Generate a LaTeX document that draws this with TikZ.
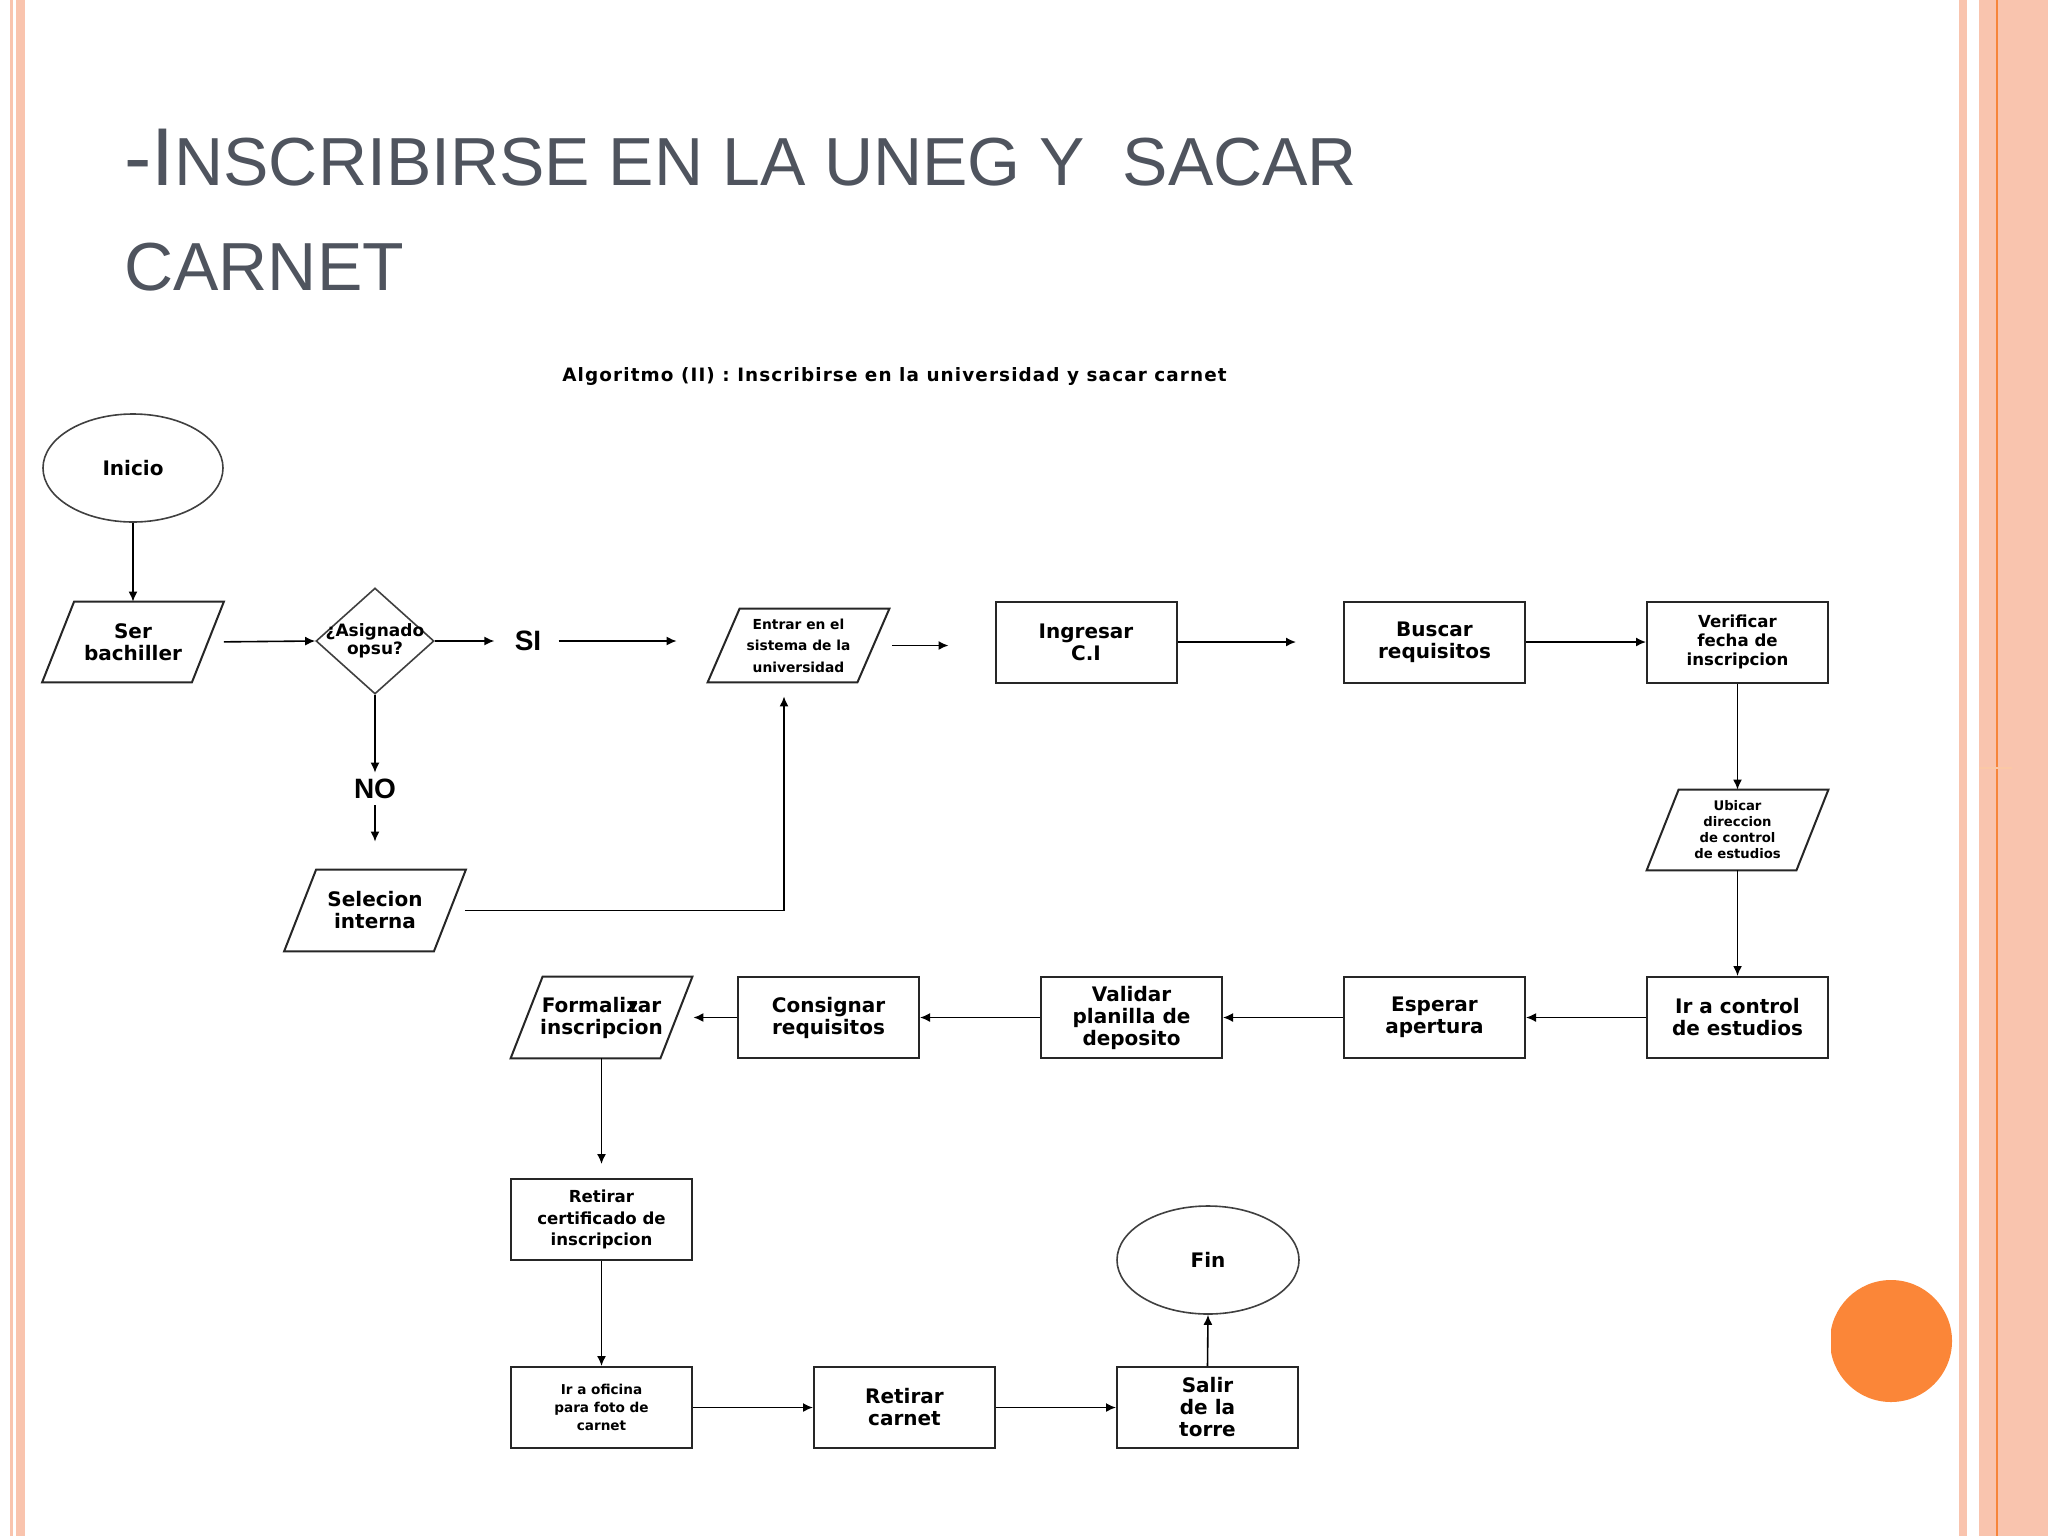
\documentclass[tikz,border=0pt]{standalone}
\usepackage{fontspec}
\setmainfont{DejaVu Sans}
\newfontfamily\titlefont{Liberation Sans}
\newfontfamily\dvs{DejaVu Sans}
\newfontfamily\dvsw{DejaVu Sans}[LetterSpace=6]
\usetikzlibrary{shapes.geometric,arrows.meta}
\definecolor{pinkb}{HTML}{F9C4AE}
\definecolor{orangel}{HTML}{F7853A}
\definecolor{orangec}{HTML}{FB8638}
\definecolor{titlegray}{HTML}{4F545E}
\newcommand{\nfont}[2]{\dvs\bfseries\fontsize{#1}{#2}\selectfont}
\tikzset{
  box/.style={rectangle, draw=black!85, line width=1pt, minimum width=90.5pt, minimum height=40.5pt, inner sep=0pt, align=center, font=\nfont{10}{11}},
  io/.style={rectangle, draw=none, minimum width=74.5pt, minimum height=40pt, inner sep=0pt, align=center, font=\nfont{10}{11}},
  pline/.style={draw=black!85, line width=1pt, line join=miter},
  term/.style={ellipse, draw=black!75, line width=0.8pt, minimum width=90pt, minimum height=54pt, inner sep=0pt, font=\nfont{10}{11}},
  arr/.style={-{Latex[length=5pt,width=4.5pt]}, line width=0.8pt, black},
  lbl/.style={font=\titlefont\bfseries\fontsize{14}{14}\selectfont, inner sep=0pt},
}
\begin{document}
\begin{tikzpicture}[x=0.5pt,y=-0.5pt]
\useasboundingbox (0,0) rectangle (2048,1536);
% background
\fill[white] (0,0) rectangle (2048,1536);
\fill[pinkb] (10,0) rectangle (25,1536);
\fill[white] (13.3,0) rectangle (16,1536);
\fill[pinkb] (1959,0) rectangle (1967,1536);
\fill[pinkb] (1979,0) rectangle (2048,1536);
\draw[orangel, line width=1pt] (1997,0) -- (1997,1536);
\draw[orangel!45, line width=1pt] (1979,768) -- (2012,768);
\begin{scope}
  \clip (1831,1260) rectangle (1960,1420);
  \fill[orangec] (1891,1341) circle [radius=30.5pt];
\end{scope}
% title
\node[anchor=base west, inner sep=0pt, text=titlegray, font=\titlefont] (t1) at (124,185)
  {\fontsize{41}{41}\selectfont -I\fontsize{34}{34}\selectfont NSCRIBIRSE EN LA UNEG Y\ \ SACAR};
\node[anchor=base west, inner sep=0pt, text=titlegray, font=\titlefont] (t2) at (124,290)
  {\fontsize{34}{34}\selectfont CARNET};
\node[inner sep=0pt, font=\dvsw\bfseries\fontsize{9.2}{10}\selectfont] (sub) at (894.5,376)
  {Algoritmo (II) : Inscribirse en la universidad y sacar carnet};
% nodes
\node[term] (inicio) at (133,468) {Inicio};
\node[io] (ser) at (133,642) {Ser\\bachiller};
\node[diamond, draw=black!75, line width=0.8pt, minimum width=59pt, minimum height=53pt, inner sep=0pt,
  label={[font=\nfont{8.5}{9}, align=center, inner sep=0pt]center:{¿Asignado\\opsu?}}] (asig) at (375,641) {};
\node[lbl] (si) at (528,641) {SI};
\node[lbl] (no) at (375,789) {NO};
\node[io, minimum height=36.5pt, font=\nfont{6.9}{10.75}] (entrar) at (798.5,645.5) {Entrar en el\\sistema de la\\universidad};
\node[box] (ingresar) at (1086,642) {Ingresar\\C.I};
\node[box] (buscar) at (1434.5,642) {Buscar\\requisitos};
\node[box, font=\nfont{8.3}{9.5}] (verificar) at (1737.5,642) {Verificar\\fecha de\\inscripcion};
\node[io, font=\nfont{6.6}{8}] (ubicar) at (1737.5,830) {Ubicar\\direccion\\de control\\de estudios};
\node[box] (ir) at (1737.5,1017.5) {Ir a control\\de estudios};
\node[box] (esperar) at (1434.5,1017.5) {Esperar\\apertura};
\node[box] (validar) at (1131.5,1017.5) {Validar\\planilla de\\deposito};
\node[box] (consignar) at (828.5,1017.5) {Consignar\\requisitos};
\node[io, minimum height=40.5pt] (formal) at (601.5,1017.5) {Formalizar\\inscripcion};
\node[io, minimum height=40.5pt] (selec) at (375,910.5) {Selecion\\interna};
\node[box, font=\nfont{8.3}{10.75}] (retcert) at (601.5,1219.5) {Retirar\\certificado de\\inscripcion};
\node[box, font=\nfont{6.8}{8.8}] (ofi) at (601.5,1407.5) {Ir a oficina\\para foto de\\carnet};
\node[box] (carnet) at (904.5,1407.5) {Retirar\\carnet};
\node[box] (salir) at (1207.5,1407.5) {Salir\\de la\\torre};
\node[term, minimum width=91pt] (fin) at (1208,1260) {Fin};
% parallelograms
\foreach \n in {ser,entrar,ubicar,formal,selec}{
  \draw[pline] ([xshift=8pt]\n.north west) -- ([xshift=8pt]\n.north east)
     -- ([xshift=-8pt]\n.south east) -- ([xshift=-8pt]\n.south west) -- cycle;
}
% connectors
\draw[arr] (inicio.south) -- (ser.north);
\draw[arr, shorten <=8pt] (ser.east) -- (asig.west);
\draw[arr, shorten >=10pt] (asig.east) -- (si.west);
\draw[arr, shorten <=8.5pt, shorten >=23.5pt] (si.east) -- (si.east -| entrar.west);
\draw[arr, shorten <=9.5pt, shorten >=23pt] (entrar.east) -- (entrar.east -| ingresar.west);
\draw[arr, shorten >=23.5pt] (ingresar.east) -- (buscar.west);
\draw[arr] (buscar.east) -- (verificar.west);
\draw[arr] (verificar.south) -- (ubicar.north);
\draw[arr] (ubicar.south) -- (ir.north);
\draw[arr] (ir.west) -- (esperar.east);
\draw[arr] (esperar.west) -- (validar.east);
\draw[arr] (validar.west) -- (consignar.east);
\draw[arr, shorten >=8.5pt] (consignar.west) -- (formal.east);
\draw[arr, shorten >=7pt] (formal.south) -- (retcert.north);
\draw[arr] (retcert.south) -- (ofi.north);
\draw[arr] (ofi.east) -- (carnet.west);
\draw[arr] (carnet.east) -- (salir.west);
\draw[arr] (salir.north) -- (fin.south);
\draw[arr, shorten >=3pt] (asig.south) -- (no.north);
\draw[arr, shorten <=3pt, shorten >=14pt] (no.south) -- (selec.north);
\coordinate (elbow) at (784,910.5);
\draw[arr, shorten >=7pt] ([xshift=7.5pt]selec.east) -- (elbow) -- (elbow |- entrar.south);
% stray arrowhead inside Formalizar
\coordinate (sa) at (633,1004);
\coordinate (sb) at (633,1013);
\draw[arr] (sa) -- (sb);
\end{tikzpicture}
\end{document}
